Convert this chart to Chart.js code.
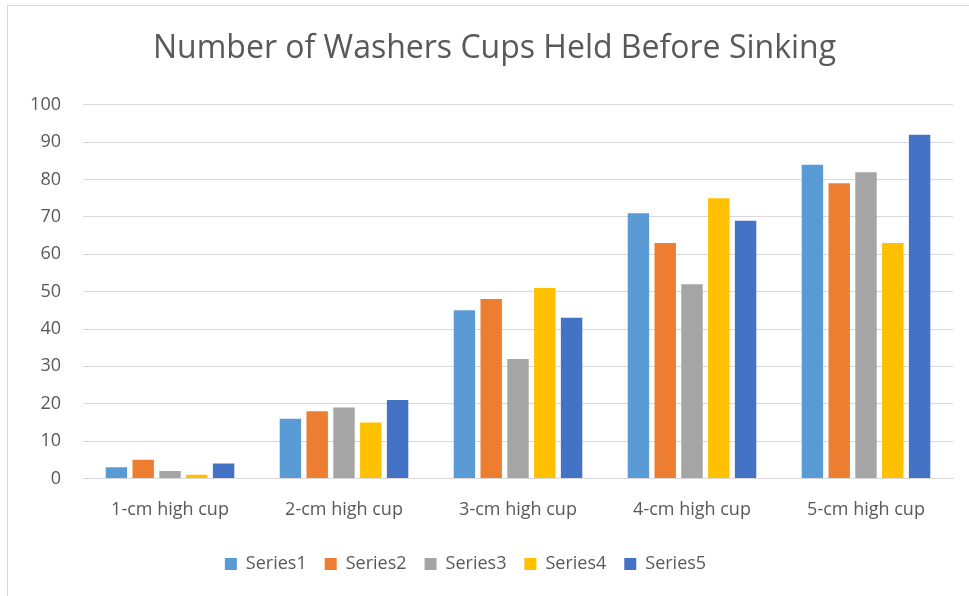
<!DOCTYPE html>
<html>
<head>
<meta charset="utf-8">
<script src="https://cdn.jsdelivr.net/npm/chart.js@4/dist/chart.umd.min.js"></script>
<style>
  html, body { margin: 0; padding: 0; background: #ffffff; }
  #marco {
    position: absolute; left: 7px; top: 5px;
    width: 962px; height: 591px;
    border-left: 1px solid #d9d9d9; border-top: 1px solid #d9d9d9;
  }
  #grafico { display: block; }
</style>
</head>
<body>
<div id="marco"><canvas id="grafico" width="962" height="591"></canvas></div>
<script>
// Datos
const categorias = ['1-cm high cup', '2-cm high cup', '3-cm high cup', '4-cm high cup', '5-cm high cup'];
const nombresSeries = ['Series1', 'Series2', 'Series3', 'Series4', 'Series5'];
const serie1 = [3, 16, 45, 71, 84];
const serie2 = [5, 18, 48, 63, 79];
const serie3 = [2, 19, 32, 52, 82];
const serie4 = [1, 15, 51, 75, 63];
const serie5 = [4, 21, 43, 69, 92];
const coloresSeries = ['#5B9BD5', '#ED7D31', '#A5A5A5', '#FFC000', '#4472C4'];

const valoresSeries = [serie1, serie2, serie3, serie4, serie5];
const fuente = "'Open Sans', sans-serif";
const grisTexto = '#595959';

// En Excel el título y la leyenda no quedan centrados sobre el mismo eje
const ajustarCajas = {
    id: 'ajustarCajas',
    afterLayout(chart) {
        const ley = chart.legend;
        ley.left -= 15;
        ley.right -= 15;
        ley.top -= 5;
        ley.bottom -= 5;
        const tit = chart.titleBlock;
        tit.left += 14;
        tit.right += 14;
    }
};

const ctx = document.getElementById('grafico').getContext('2d');
const grafico = new Chart(ctx, {
    type: 'bar',
    data: {
        labels: categorias,
        datasets: valoresSeries.map((vals, i) => ({
            label: nombresSeries[i],
            data: vals,
            backgroundColor: coloresSeries[i],
            borderWidth: 0,
            categoryPercentage: 0.77,
            barPercentage: 0.8
        }))
    },
    options: {
        responsive: false,
        animation: false,
        layout: { padding: { left: 0, right: 17, top: 0, bottom: 9 } },
        plugins: {
            title: {
                display: true,
                text: 'Number of Washers Cups Held Before Sinking',
                color: grisTexto,
                font: { family: fuente, size: 32, weight: 'normal' },
                padding: { top: 24, bottom: 36.5 }
            },
            legend: {
                position: 'bottom',
                labels: {
                    color: grisTexto,
                    font: { family: fuente, size: 18 },
                    boxWidth: 12,
                    boxHeight: 12,
                    padding: 18
                }
            },
            tooltip: { enabled: false }
        },
        scales: {
            x: {
                grid: { display: false, drawTicks: false },
                border: { color: '#d9d9d9', width: 1 },
                ticks: { color: grisTexto, font: { family: fuente, size: 18 }, padding: 21 }
            },
            y: {
                min: 0,
                max: 100,
                ticks: { stepSize: 10, color: grisTexto, font: { family: fuente, size: 18 }, padding: 22 },
                grid: { color: '#d9d9d9', lineWidth: 1, drawTicks: false },
                border: { display: false },
                afterFit: (escala) => { escala.width = 75; }
            }
        }
    },
    plugins: [ajustarCajas]
});
</script>
</body>
</html>
